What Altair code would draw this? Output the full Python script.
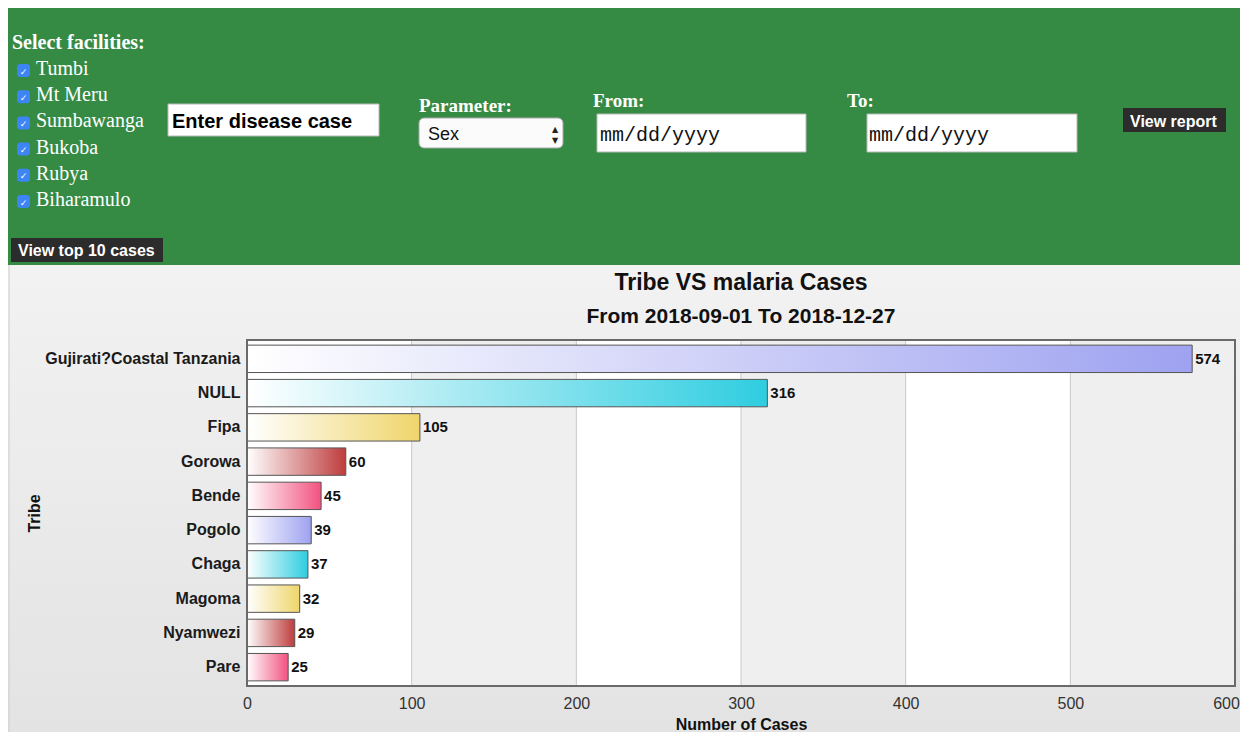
import altair as alt
import pandas as pd

# ---------------- data ----------------
tribes = ["Gujirati?Coastal Tanzania", "NULL", "Fipa", "Gorowa", "Bende",
          "Pogolo", "Chaga", "Magoma", "Nyamwezi", "Pare"]
cases = [574, 316, 105, 60, 45, 39, 37, 32, 29, 25]
bar_colors = ["#9ea2f0", "#2ecde0", "#efd56b", "#be3d3d", "#f2527f"]
x_ticks = [0, 100, 200, 300, 400, 500, 600]
grid_values = [100, 200, 300, 400, 500]
shaded_starts = [100, 300, 500]
facilities = ["Tumbi", "Mt Meru", "Sumbawanga", "Bukoba", "Rubya", "Biharamulo"]

title_text = "Tribe VS malaria Cases"
subtitle_text = "From 2018-09-01 To 2018-12-27"
x_title = "Number of Cases"
y_title = "Tribe"

df = pd.DataFrame({
    "tribe": tribes,
    "cases": cases,
    "ci": [i % len(bar_colors) for i in range(len(tribes))],
})
bands_df = pd.DataFrame({"start": shaded_starts, "end": [s + 100 for s in shaded_starts]})
grid_df = pd.DataFrame({"v": grid_values})
dummy = pd.DataFrame({"k": [0]})

# ---------------- layout (page px) ----------------
PL, PT = 247, 340          # plot origin on page
W, H = 988, 346            # plot area size
RIGHT, BOTTOM = 1240, 732  # canvas edge on page (keeps page inside the window)
SANS = "Liberation Sans"
SERIF = "Liberation Serif"
MONO = "Liberation Mono"


def X(px):
    return px - PL


def Y(py):
    return py - PT


def rect(x1, y1, x2, y2, **mk):
    return alt.Chart(dummy).mark_rect(**mk).encode(
        x=alt.value(X(x1)), x2=alt.value(X(x2)),
        y=alt.value(Y(y1)), y2=alt.value(Y(y2)))


def text(s, x, y, **mk):
    opts = dict(align="left", baseline="alphabetic")
    opts.update(mk)
    return alt.Chart(dummy).mark_text(**opts).encode(
        x=alt.value(X(x)), y=alt.value(Y(y)), text=alt.value(s))


# ---------------- header (form) ----------------
header = [rect(8, 8, RIGHT, 265, fill="#358b44")]
header.append(text("Select facilities:", 12, 49, font=SERIF, fontWeight="bold",
                   fontSize=20, color="white"))
for i, name in enumerate(facilities):
    base = 75 + i * 26.2
    header.append(rect(17, base - 11, 30, base + 2, fill="#3d85f5", cornerRadius=3))
    header.append(text("✓", 23.5, base - 0.5, align="center", font="DejaVu Sans",
                       fontSize=9, fontWeight="bold", color="white"))
    header.append(text(name, 36, base, font=SERIF, fontSize=20, color="white"))

header.append(rect(11, 238, 163, 262, fill="#2c2c2c"))
header.append(text("View top 10 cases", 18, 256, font=SANS, fontWeight="bold",
                   fontSize=16, color="white"))

header.append(rect(168, 104, 379, 136, fill="white", stroke="#b8b8b8", strokeWidth=1))
header.append(text("Enter disease case", 172, 128, font=SANS, fontWeight="bold",
                   fontSize=20, color="black"))

header.append(text("Parameter:", 419, 112, font=SERIF, fontWeight="bold",
                   fontSize=19, color="white"))
header.append(rect(419, 118, 563, 148, fill="#fbfbfb", stroke="#a8a8a8",
                   strokeWidth=1, cornerRadius=5))
header.append(text("Sex", 428, 140, font=SANS, fontSize=18, color="#111"))
header.append(text("▲", 555, 132, align="center", font="DejaVu Sans",
                   fontSize=8, color="#222"))
header.append(text("▼", 555, 143, align="center", font="DejaVu Sans",
                   fontSize=8, color="#222"))

header.append(text("From:", 593, 107, font=SERIF, fontWeight="bold",
                   fontSize=19, color="white"))
header.append(rect(597, 114, 806, 152, fill="white", stroke="#b8b8b8", strokeWidth=1))
header.append(text("mm/dd/yyyy", 600, 141, font=MONO, fontSize=20, color="#111"))

header.append(text("To:", 847, 107, font=SERIF, fontWeight="bold",
                   fontSize=19, color="white"))
header.append(rect(867, 114, 1077, 152, fill="white", stroke="#b8b8b8", strokeWidth=1))
header.append(text("mm/dd/yyyy", 869, 141, font=MONO, fontSize=20, color="#111"))

header.append(rect(1123, 108, 1226, 132, fill="#2c2c2c"))
header.append(text("View report", 1130, 127, font=SANS, fontWeight="bold",
                   fontSize=16, color="white"))

# ---------------- chart area ----------------
bg_grad = alt.LinearGradient(
    gradient="linear", x1=0, x2=0, y1=0, y2=1,
    stops=[alt.GradientStop(color="#f2f2f2", offset=0),
           alt.GradientStop(color="#e3e3e3", offset=1)])
background = rect(8, 265, RIGHT, BOTTOM, fill=bg_grad)
left_line = alt.Chart(dummy).mark_rule(color="#cfcfcf", strokeWidth=1).encode(
    x=alt.value(X(9)), y=alt.value(Y(265)), y2=alt.value(Y(BOTTOM)))
plot_bg = rect(PL, PT, PL + W, PT + H, fill="white")

x_scale = alt.Scale(domain=[0, 600], nice=False, zero=True)
x_axis = alt.Axis(values=x_ticks, title=x_title, domain=False, ticks=False, grid=False,
                  labelFont=SANS, labelFontSize=16, labelColor="#333", labelPadding=9,
                  labelFlush=False, labelOverlap=False,
                  labelOffset={"expr": "datum.value == 600 ? -9 : 0"},
                  titleFont=SANS, titleFontSize=16, titleFontWeight="bold",
                  titleColor="#111", titlePadding=5, zindex=1)
y_scale = alt.Scale(domain=tribes, paddingInner=0.2, paddingOuter=0.15)
y_axis = alt.Axis(title=y_title, domain=False, ticks=False, grid=False,
                  labelFont=SANS, labelFontSize=16, labelFontWeight="bold",
                  labelColor="#1a1a1a", labelPadding=7, labelLimit=400,
                  titleFont=SANS, titleFontSize=16, titleFontWeight="bold",
                  titleColor="#111", titleX=-213, titleY=H / 2,
                  titleBaseline="middle", titleAlign="center", zindex=1)

bands = alt.Chart(bands_df).mark_rect(fill="#efefef").encode(
    x=alt.X("start:Q", scale=x_scale, axis=x_axis), x2="end:Q")
grid = alt.Chart(grid_df).mark_rule(color="#c8c8c8", strokeWidth=1).encode(
    x=alt.X("v:Q", scale=x_scale, axis=x_axis))

bar_layers = []
for k, col in enumerate(bar_colors):
    grad = alt.LinearGradient(
        gradient="linear", x1=0, x2=1, y1=0, y2=0,
        stops=[alt.GradientStop(color="#ffffff", offset=0),
               alt.GradientStop(color=col, offset=1)])
    bar_layers.append(
        alt.Chart(df).transform_filter(f"datum.ci == {k}")
        .mark_bar(fill=grad, stroke="#555555", strokeWidth=1)
        .encode(x=alt.X("cases:Q", scale=x_scale, axis=x_axis),
                y=alt.Y("tribe:N", scale=y_scale, axis=y_axis, sort=tribes)))

labels = alt.Chart(df).mark_text(
    align="left", baseline="middle", dx=3, font=SANS, fontSize=15,
    fontWeight="bold", color="#111").encode(
    x=alt.X("cases:Q", scale=x_scale, axis=x_axis),
    y=alt.Y("tribe:N", scale=y_scale, axis=y_axis, sort=tribes),
    text="cases:Q")

frame = rect(PL, PT, PL + W, PT + H, fillOpacity=0, stroke="#6a6a6a", strokeWidth=2)

title = alt.Chart(dummy).mark_text(
    align="center", baseline="alphabetic", font=SANS, fontSize=23,
    fontWeight="bold", color="#111").encode(
    x=alt.value(W / 2), y=alt.value(Y(290)), text=alt.value(title_text))
subtitle = alt.Chart(dummy).mark_text(
    align="center", baseline="alphabetic", font=SANS, fontSize=21,
    fontWeight="bold", color="#111").encode(
    x=alt.value(W / 2), y=alt.value(Y(323)), text=alt.value(subtitle_text))

chart = alt.layer(
    *header, background, left_line, plot_bg, bands, grid, *bar_layers, labels,
    frame, title, subtitle
).properties(
    width=W, height=H,
    autosize=alt.AutoSizeParams(type="none"),
    padding={"left": PL - 8, "top": PT - 8, "right": RIGHT - PL - W, "bottom": BOTTOM - PT - H},
).configure(background="white").configure_view(strokeWidth=0)

chart.save("out.html", embed_options={"renderer": "svg", "actions": False})
